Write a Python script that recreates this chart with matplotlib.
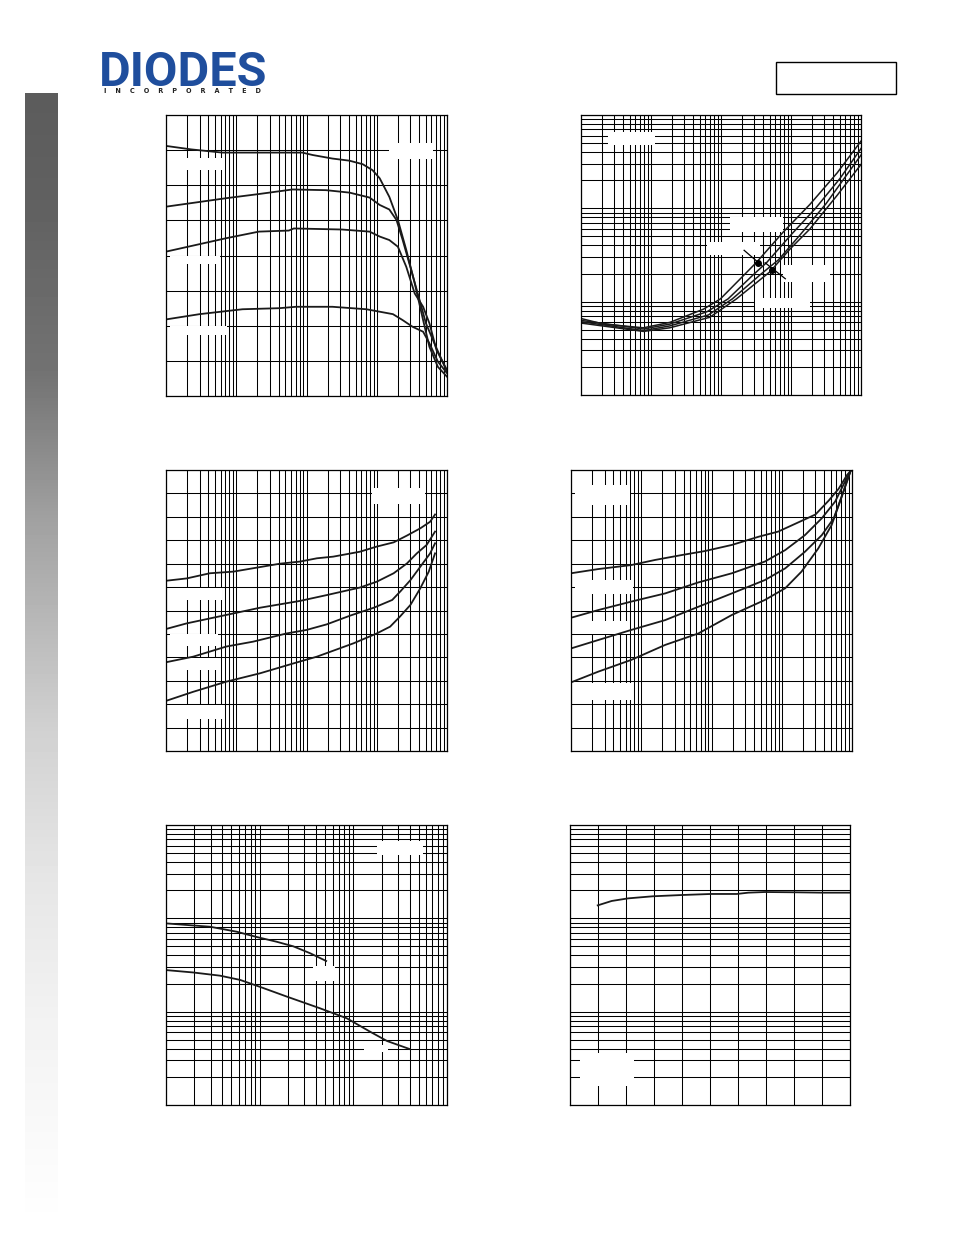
import numpy as np
import matplotlib
matplotlib.use("Agg")
import matplotlib.pyplot as plt
from matplotlib.patches import Rectangle
from matplotlib.lines import Line2D
from matplotlib.ticker import LogLocator, MultipleLocator

W, H = 954, 1235

# Graph 1 - gain vs collector current, four curves
g1_x1 = [0.1, 0.23, 0.63, 2.1, 8.7, 12.3, 23.4, 40.7, 63, 87, 110, 151, 200, 263, 347, 457, 562, 741, 1000]
g1_y1 = [712, 702, 693, 693, 693, 686, 676, 670, 660, 643, 620, 567, 501, 416, 321, 216, 140, 83, 55]
g1_x2 = [0.1, 0.71, 2.1, 6.3, 19, 41, 79, 110, 151, 191, 234, 309, 407, 501, 661, 1000]
g1_y2 = [539, 563, 575, 588, 586, 579, 565, 544, 531, 501, 444, 359, 273, 207, 150, 69]
g1_x3 = [0.1, 0.71, 2.1, 5.6, 6.6, 32, 79, 110, 151, 200, 263, 347, 457, 562, 708, 1000]
g1_y3 = [411, 449, 468, 471, 477, 474, 468, 454, 444, 425, 368, 292, 254, 207, 131, 74]
g1_x4 = [0.1, 0.3, 1.23, 4.1, 7.1, 23.4, 71, 110, 170, 234, 324, 457, 562, 741, 1000]
g1_y4 = [218, 233, 247, 250, 254, 254, 247, 240, 233, 216, 197, 183, 150, 98, 65]

# Graph 2 - log/log, four curves with a minimum
g2_x1 = [0.1, 0.21, 0.78, 1.86, 5.6, 9.8, 20.9, 32, 78, 186, 457, 1000]
g2_y1 = [6.6, 5.75, 5.25, 6.0, 8.3, 10.7, 19, 26.3, 56, 110, 240, 525]
g2_x2 = [0.1, 0.78, 1.86, 6.3, 12.6, 28, 45, 100, 224, 501, 1000]
g2_y2 = [6.3, 5.1, 5.75, 7.8, 10.7, 19, 26.3, 52, 100, 209, 437]
g2_x3 = [0.1, 0.78, 1.86, 6.6, 14.5, 38, 66, 135, 316, 1000]
g2_y3 = [6.1, 4.9, 5.5, 7.2, 10.7, 20, 28, 52, 112, 372]
g2_x4 = [0.1, 0.78, 1.86, 6.9, 16.6, 50, 98, 186, 457, 1000]
g2_y4 = [5.9, 4.8, 5.25, 6.8, 10.7, 20.9, 37, 60, 138, 295]
# pointer lines and dots
g2_ptr_x = [[21.4, 38], [42.7, 83]]
g2_ptr_y = [[35.5, 24.5], [26.1, 17.6]]
g2_dot_x = [33.5, 54]
g2_dot_y = [25.9, 21.8]

# Graph 3 - voltage vs current, four curves
g3_x1 = [0.1, 0.197, 0.42, 0.91, 1.95, 4.2, 8.1, 14.1, 24, 57.5, 100, 174, 269, 417, 575, 676]
g3_y1 = [0.727, 0.737, 0.759, 0.766, 0.783, 0.80, 0.809, 0.823, 0.830, 0.851, 0.873, 0.891, 0.92, 0.951, 0.979, 1.01]
g3_x2 = [0.1, 0.197, 0.72, 2.19, 8.1, 19.5, 57.5, 100, 174, 269, 372, 513, 676]
g3_y2 = [0.521, 0.545, 0.581, 0.612, 0.641, 0.666, 0.698, 0.723, 0.759, 0.801, 0.844, 0.88, 0.937]
g3_x3 = [0.1, 0.245, 0.72, 1.74, 5.2, 10, 19.5, 41.7, 91, 166, 219, 302, 417, 575, 676]
g3_y3 = [0.379, 0.403, 0.446, 0.467, 0.502, 0.517, 0.541, 0.578, 0.612, 0.645, 0.683, 0.73, 0.787, 0.844, 0.887]
g3_x4 = [0.1, 0.245, 0.72, 2.19, 6.5, 14.1, 46.8, 100, 155, 214, 302, 417, 550, 676]
g3_y4 = [0.214, 0.253, 0.296, 0.332, 0.374, 0.403, 0.46, 0.502, 0.531, 0.574, 0.624, 0.695, 0.766, 0.844]

# Graph 4 - voltage vs current, four curves meeting at top right
g4_x1 = [0.1, 0.245, 0.72, 1.58, 3.8, 8.1, 19.5, 46.8, 89, 174, 302, 468, 646, 851, 955]
g4_y1 = [0.759, 0.777, 0.794, 0.816, 0.837, 0.854, 0.88, 0.915, 0.937, 0.977, 1.01, 1.07, 1.12, 1.179, 1.196]
g4_x2 = [0.1, 0.245, 0.72, 2.19, 6.5, 19.5, 57.5, 112, 214, 372, 575, 794, 955]
g4_y2 = [0.569, 0.602, 0.638, 0.673, 0.72, 0.759, 0.809, 0.858, 0.922, 0.994, 1.065, 1.15, 1.196]
g4_x3 = [0.1, 0.245, 0.72, 2.19, 6.5, 19.5, 57.5, 112, 214, 372, 550, 724, 955]
g4_y3 = [0.438, 0.474, 0.517, 0.559, 0.616, 0.673, 0.73, 0.78, 0.851, 0.922, 0.994, 1.093, 1.196]
g4_x4 = [0.1, 0.245, 0.72, 2.19, 6.5, 19.5, 57.5, 112, 191, 331, 513, 676, 955]
g4_y4 = [0.293, 0.339, 0.389, 0.453, 0.502, 0.581, 0.645, 0.695, 0.766, 0.865, 0.965, 1.065, 1.196]

# Graph 5 - log/log, two falling curves
g5_x1 = [0.1, 0.166, 0.295, 0.568, 0.93, 1.51, 2.29, 3.47, 5.13]
g5_y1 = [88.3, 84.9, 81.3, 71.9, 63.1, 56.2, 50.1, 42.2, 34.9]
g5_x2 = [0.1, 0.195, 0.378, 0.617, 1.0, 1.95, 4.37, 8.5, 15.1, 22.9, 39.8]
g5_y2 = [27.9, 26.3, 24.3, 21.9, 18.5, 14.5, 10.9, 8.5, 6.1, 4.85, 3.98]

# Graph 6 - linear x, log y, one curve
g6_x = [9.9, 14.9, 20.8, 29.5, 40, 50.4, 59.6, 63.7, 69.6, 80.4, 90, 100]
g6_y = [137.7, 153.5, 163.7, 172.2, 177.8, 182.4, 182.4, 188.4, 191.4, 190.1, 188.4, 188.4]

fig = plt.figure(figsize=(W / 100, H / 100), dpi=100)
fig.patch.set_facecolor("white")


def make_axes(box):
    x0, y0, x1, y1 = box
    return fig.add_axes([x0 / W, 1 - y1 / H, (x1 - x0) / W, (y1 - y0) / H])


def setup(ax, xlim, ylim, xlog, ylog, xstep=None, ystep=None):
    if xlog:
        ax.set_xscale("log")
        ax.xaxis.set_major_locator(LogLocator(base=10, numticks=20))
        ax.xaxis.set_minor_locator(LogLocator(base=10, subs=np.arange(2, 10), numticks=20))
    else:
        ax.xaxis.set_major_locator(MultipleLocator(xstep))
    if ylog:
        ax.set_yscale("log")
        ax.yaxis.set_major_locator(LogLocator(base=10, numticks=20))
        ax.yaxis.set_minor_locator(LogLocator(base=10, subs=np.arange(2, 10), numticks=20))
    else:
        ax.yaxis.set_major_locator(MultipleLocator(ystep))
    ax.set_xlim(xlim)
    ax.set_ylim(ylim)
    ax.set_axisbelow(True)
    ax.grid(True, which="both", color="black", linewidth=0.75)
    ax.tick_params(which="both", length=0, labelbottom=False, labelleft=False)
    for sp in ax.spines.values():
        sp.set_color("black")
        sp.set_linewidth(0.9)


def blank(ax, box, holes):
    # white label areas (their text is not visible in the reference)
    x0, y0, x1, y1 = box
    for bx0, by0, bx1, by1 in holes:
        ax.add_patch(Rectangle(((bx0 - x0) / (x1 - x0), (y1 - by1) / (y1 - y0)),
                               (bx1 - bx0) / (x1 - x0), (by1 - by0) / (y1 - y0),
                               transform=ax.transAxes, facecolor="white",
                               edgecolor="none", zorder=1))


LW = 1.3

# Graph 1
box1 = (166, 115, 447, 396)
ax1 = make_axes(box1)
setup(ax1, (0.1, 1000), (0, 800), True, False, ystep=100)
for xs, ys in [(g1_x1, g1_y1), (g1_x2, g1_y2), (g1_x3, g1_y3), (g1_x4, g1_y4)]:
    ax1.plot(xs, ys, color="#1a1a1a", lw=LW)
blank(ax1, box1, [(389, 143, 433, 159), (170, 158, 225, 170), (170, 256, 220, 264), (170, 326, 227, 335)])

# Graph 2
box2 = (581, 115, 861, 395)
ax2 = make_axes(box2)
setup(ax2, (0.1, 1000), (1, 1000), True, True)
for xs, ys in [(g2_x1, g2_y1), (g2_x2, g2_y2), (g2_x3, g2_y3), (g2_x4, g2_y4)]:
    ax2.plot(xs, ys, color="#1a1a1a", lw=1.1)
for px, py in zip(g2_ptr_x, g2_ptr_y):
    ax2.plot(px, py, color="black", lw=0.9)
ax2.plot(g2_dot_x, g2_dot_y, "o", color="black", ms=4, ls="none")
blank(ax2, box2, [(608, 132, 655, 145), (730, 217, 783, 232), (707, 242, 760, 255),
                  (783, 265, 830, 282), (755, 298, 810, 308)])

# Graph 3
box3 = (166, 470, 447, 751)
ax3 = make_axes(box3)
setup(ax3, (0.1, 1000), (0, 1.2), True, False, ystep=0.1)
for xs, ys in [(g3_x1, g3_y1), (g3_x2, g3_y2), (g3_x3, g3_y3), (g3_x4, g3_y4)]:
    ax3.plot(xs, ys, color="#1a1a1a", lw=LW)
blank(ax3, box3, [(372, 488, 425, 504), (170, 588, 222, 600), (170, 634, 218, 646),
                  (170, 658, 218, 670), (170, 705, 224, 719)])

# Graph 4
box4 = (571, 470, 852, 751)
ax4 = make_axes(box4)
setup(ax4, (0.1, 1000), (0, 1.2), True, False, ystep=0.1)
for xs, ys in [(g4_x1, g4_y1), (g4_x2, g4_y2), (g4_x3, g4_y3), (g4_x4, g4_y4)]:
    ax4.plot(xs, ys, color="#1a1a1a", lw=LW)
blank(ax4, box4, [(575, 485, 630, 505), (575, 580, 633, 594), (575, 621, 628, 634), (575, 683, 633, 700)])

# Graph 5
box5 = (166, 825, 447, 1105)
ax5 = make_axes(box5)
setup(ax5, (0.1, 100), (1, 1000), True, True)
ax5.plot(g5_x1, g5_y1, color="#1a1a1a", lw=LW)
ax5.plot(g5_x2, g5_y2, color="#1a1a1a", lw=LW)
blank(ax5, box5, [(377, 841, 423, 855), (313, 966, 335, 981), (364, 1045, 388, 1052)])

# Graph 6
box6 = (570, 825, 850, 1105)
ax6 = make_axes(box6)
setup(ax6, (0, 100), (1, 1000), False, True, xstep=10)
ax6.plot(g6_x, g6_y, color="#1a1a1a", lw=LW)
blank(ax6, box6, [(580, 1053, 634, 1086)])

# grey gradient side bar
bar = fig.add_axes([25 / W, 1 - 1212 / H, 33 / W, (1212 - 93) / H])
pos = np.linspace(0, 1, 300)
shade = np.interp(pos, [0, 0.1, 0.25, 0.38, 0.57, 0.7, 0.83, 1.0],
                  [0.36, 0.38, 0.45, 0.63, 0.82, 0.9, 0.95, 0.995])
bar.imshow(np.repeat(shade[:, None], 2, axis=1), cmap="gray", vmin=0, vmax=1,
           aspect="auto", interpolation="bilinear")
bar.axis("off")

# company logo
fig.text(99 / W, 1 - 86 / H, "DIODES", ha="left", va="baseline", fontsize=35,
         fontweight="bold", color="#1f4e9d", family=["Roboto", "DejaVu Sans"])
fig.add_artist(Line2D([100 / W, 264 / W], [1 - 67.5 / H, 1 - 67.5 / H], color="white",
                      lw=1.2, transform=fig.transFigure))
fig.text(182 / W, 1 - 91 / H, "    ".join("INCORPORATED"), ha="center", va="center",
         fontsize=4.7, fontweight="bold", color="#222222")

# empty header box
fig.add_artist(Rectangle((776 / W, 1 - 94 / H), 120 / W, 32 / H, transform=fig.transFigure,
                         facecolor="none", edgecolor="black", lw=1))

fig.savefig("out.png", dpi=100)
